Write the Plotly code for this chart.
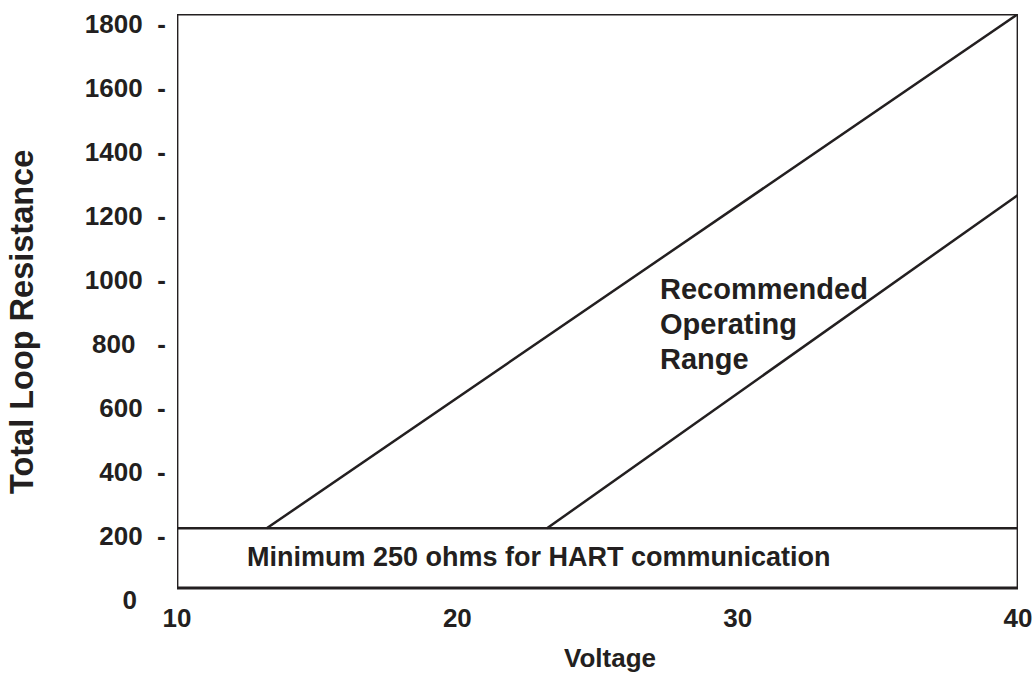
import plotly.graph_objects as go

# ---- data ----
x_tick_vals = [10, 20, 30, 40]
x_tick_text = ["10", "20", "30", "40"]
y_tick_vals = [0, 200, 400, 600, 800, 1000, 1200, 1400, 1600, 1800]
y_tick_text = ["0\u00a0\u00a0\u00a0\u00a0", "200\u00a0\u00a0-", "400\u00a0\u00a0-", "600\u00a0\u00a0-",
               "800\u00a0\u00a0\u00a0-", "1000\u00a0\u00a0-", "1200\u00a0\u00a0-", "1400\u00a0\u00a0-",
               "1600\u00a0\u00a0-", "1800\u00a0\u00a0-"]

min_line_v = [10, 40]          # voltage span of the minimum-resistance line
min_line_r = [224, 224]        # ohms
upper_v = [13.2, 40]           # upper boundary line
upper_r = [224, 1830]
lower_v = [23.2, 40]           # lower boundary line
lower_r = [224, 1265]

range_label = ["Recommended", "Operating", "Range"]
range_label_y = [970, 862, 752]

x_range = [10, 40]
y_range = [0, 1830]
frame_bottom = 37.5

INK = "#231f20"
FONT = "Liberation Sans, Arial, Helvetica, sans-serif"

fig = go.Figure()
for xs, ys in [(min_line_v, min_line_r), (upper_v, upper_r), (lower_v, lower_r)]:
    fig.add_trace(go.Scatter(x=xs, y=ys, mode="lines",
                             line=dict(color=INK, width=2.5),
                             hoverinfo="skip", showlegend=False, cliponaxis=False))

# frame around the plotting area
fig.add_shape(type="rect", xref="x", yref="y", x0=x_range[0], x1=x_range[1],
              y0=frame_bottom, y1=y_range[1], line=dict(color=INK, width=2.8),
              layer="above")

for txt, yy in zip(range_label, range_label_y):
    fig.add_annotation(text=txt, x=27.15, y=yy, xref="x", yref="y",
                       xanchor="left", yanchor="middle", align="left", showarrow=False,
                       font=dict(family=FONT, size=29, color=INK, weight="bold"))
fig.add_annotation(text="Minimum 250 ohms for HART communication", x=22.9, y=134,
                   xref="x", yref="y", xanchor="center", yanchor="middle",
                   showarrow=False, font=dict(family=FONT, size=27, color=INK, weight="bold"))
fig.add_annotation(text="Total Loop Resistance", x=-0.185, y=0.475, xref="paper", yref="paper",
                   textangle=-90, xanchor="center", yanchor="middle", showarrow=False,
                   font=dict(family=FONT, size=32.5, color=INK, weight="bold"))
fig.add_annotation(text="Voltage", x=0.515, y=-0.099, xref="paper", yref="paper",
                   xanchor="center", yanchor="middle", showarrow=False,
                   font=dict(family=FONT, size=26, color=INK, weight="bold"))

fig.update_xaxes(range=x_range, tickvals=x_tick_vals, ticktext=x_tick_text,
                 showgrid=False, zeroline=False, showline=False, ticks="", automargin=False,
                 tickfont=dict(family=FONT, size=26, color=INK, weight="bold"))
fig.update_yaxes(range=y_range, tickvals=y_tick_vals, ticktext=y_tick_text,
                 showgrid=False, zeroline=False, showline=False, automargin=False,
                 ticks="outside", ticklen=5, tickcolor="rgba(0,0,0,0)",
                 tickfont=dict(family=FONT, size=26, color=INK, weight="bold"))

fig.update_layout(width=1034, height=673, plot_bgcolor="white", paper_bgcolor="white",
                  margin=dict(l=177, r=16, t=14, b=73), showlegend=False)

# remove the default 8px page margin so the figure fills the window exactly
fig.write_html("out.html", config={"displayModeBar": False},
               post_script="document.body.style.margin='0';document.body.style.overflow='hidden';")
